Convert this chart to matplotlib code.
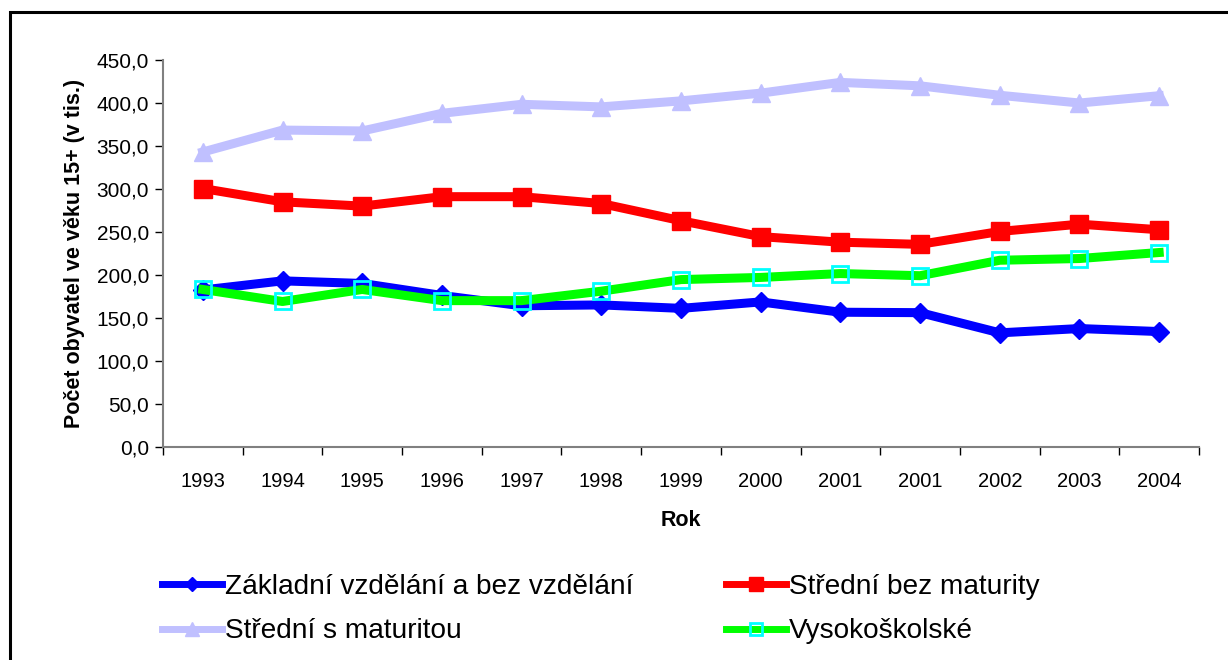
import numpy as np
import matplotlib
matplotlib.use("Agg")
import matplotlib.pyplot as plt
from matplotlib.patches import Rectangle
from matplotlib.ticker import FuncFormatter, FixedLocator

plt.rcParams['font.family'] = ['Liberation Sans', 'DejaVu Sans']

# Data
roky = ['1993', '1994', '1995', '1996', '1997', '1998', '1999',
        '2000', '2001', '2001', '2002', '2003', '2004']
zakladni = [182.4, 193.0, 190.0, 176.0, 164.0, 165.0, 161.0,
            168.5, 156.5, 156.0, 132.5, 137.5, 134.0]
stredni_bez = [300.5, 285.0, 280.0, 291.0, 291.0, 283.0, 263.0,
               244.5, 238.0, 235.5, 250.5, 259.0, 252.5]
stredni_s = [343.0, 368.5, 367.5, 388.0, 398.5, 395.5, 402.5,
             411.5, 424.0, 420.0, 409.0, 400.0, 408.5]
vysokoskolske = [183.0, 169.0, 183.0, 170.0, 170.0, 181.0, 194.5,
                 197.0, 201.5, 199.0, 217.0, 219.0, 226.0]

fig = plt.figure(figsize=(12.28, 6.6), dpi=100)
ax = fig.add_axes([0.1327, 0.3232, 0.9764 - 0.1327, 0.909 - 0.3232])

x = np.arange(len(roky))
lw = 6.5
l1, = ax.plot(x, zakladni, color='#0000FF', lw=lw, marker='D', ms=10,
              label='Základní vzdělání a bez vzdělání')
l2, = ax.plot(x, stredni_bez, color='#FF0000', lw=lw, marker='s', ms=13,
              label='Střední bez maturity')
l3, = ax.plot(x, stredni_s, color='#C0C0FF', lw=lw, marker='^', ms=13,
              label='Střední s maturitou')
l4, = ax.plot(x, vysokoskolske, color='#00FF00', lw=lw, marker='s', ms=11,
              mfc='none', mec='#00FFFF', mew=2,
              label='Vysokoškolské')

ax.set_xlim(-0.5, len(roky) - 0.5)
ax.set_ylim(0, 450)
ax.set_yticks(np.arange(0, 451, 50))
ax.yaxis.set_major_formatter(FuncFormatter(lambda v, p: f'{v:.1f}'.replace('.', ',')))

ax.xaxis.set_major_locator(FixedLocator(np.arange(-0.5, len(roky), 1.0)))
ax.xaxis.set_major_formatter(FuncFormatter(lambda v, p: ''))
ax.set_xticks(x, minor=True)
ax.set_xticklabels(roky, minor=True)
ax.tick_params(axis='x', which='minor', length=0, pad=18, labelsize=14.5)
ax.tick_params(axis='x', which='major', length=6, width=1, color='black')
ax.tick_params(axis='y', length=6, width=1, color='black', labelsize=15, pad=4)

for s in ['top', 'right']:
    ax.spines[s].set_visible(False)
ax.spines['left'].set_color('#808080')
ax.spines['left'].set_linewidth(1.5)
ax.spines['bottom'].set_color('#808080')
ax.spines['bottom'].set_linewidth(1.5)

ax.set_ylabel('Počet obyvatel ve věku 15+ (v tis.)', fontsize=15.5,
              fontweight='bold', labelpad=8)
ax.set_xlabel('Rok', fontsize=15.5, fontweight='bold', labelpad=14)

leg = fig.legend(handles=[l1, l3, l2, l4], ncol=2, loc='upper left',
                 bbox_to_anchor=(162 / 1228, 0.13), frameon=False, fontsize=20.2,
                 borderaxespad=0, borderpad=0,
                 handlelength=2.15, handletextpad=0.1, columnspacing=3.3,
                 labelspacing=0.65, markerscale=0.75)
for h in leg.legend_handles:
    h.set_linewidth(5)

# border around the chart
fig.add_artist(Rectangle((10 / 1228, -0.1), 1.5, 1.1 - 12 / 660,
                         transform=fig.transFigure, fill=False,
                         edgecolor='black', lw=2.2))

fig.savefig('out.png', dpi=100)
